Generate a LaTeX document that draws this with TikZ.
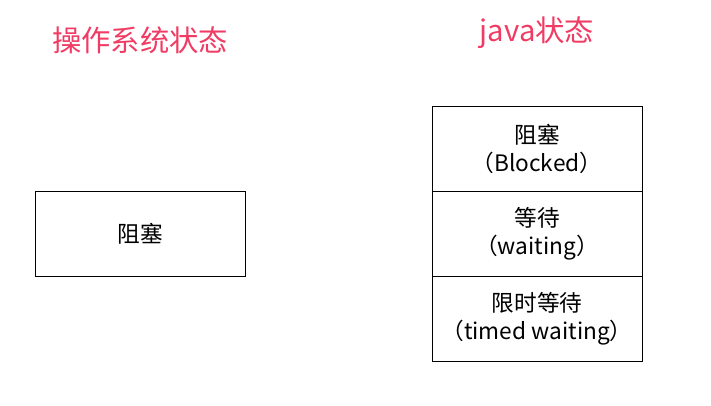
\documentclass[tikz,border=0pt]{standalone}
\usepackage{fontspec}
\setmainfont{Noto Sans CJK SC}
\usetikzlibrary{positioning}
\definecolor{titlered}{RGB}{240,60,100}
\begin{document}
\begin{tikzpicture}
    [x=0.75pt,y=-0.75pt,
     state/.style={draw, thin, minimum width=157.5pt, minimum height=63.75pt, inner sep=0pt, outer sep=0pt, align=center, font=\fontsize{17}{21}\selectfont},
     title/.style={text=titlered, font=\fontsize{22}{26}\selectfont}]
  \useasboundingbox (0,0) rectangle (711,405);
  \node[title] (ostitle) at (140,40) {操作系统状态};
  \node[title] (javatitle) at (537,33) {java状态};

  \node[state] (osblocked) at (140,233.5) {阻塞};

  \node[state] (blocked) at (537,148.5) {阻塞\\（Blocked）};
  \node[state, below=0pt of blocked] (waiting) {等待\\（waiting）};
  \node[state, below=0pt of waiting] (timed) {限时等待\\（timed waiting）};
\end{tikzpicture}
\end{document}
